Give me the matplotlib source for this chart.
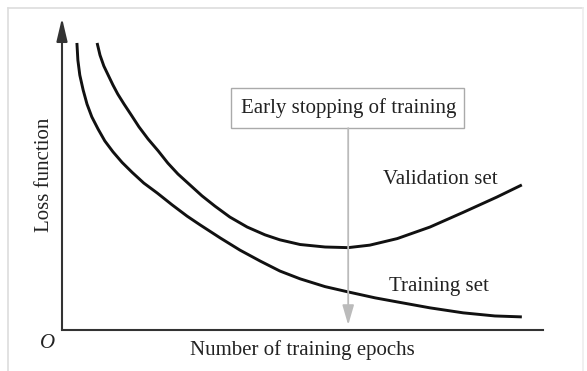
import matplotlib
matplotlib.use('Agg')
import matplotlib.pyplot as plt
from matplotlib.lines import Line2D
from matplotlib.patches import Rectangle

# schematic values (epochs 0-100, loss 0-100)
train_epochs = [3.1, 3.3, 3.7, 4.4, 5.2, 6.2, 7.5, 8.9, 10.6, 12.5, 14.6, 17.0,
                19.8, 22.9, 26.0, 28.7, 32.9, 37.0, 41.2, 45.3, 49.5, 54.7,
                59.5, 65.1, 69.7, 76.5, 83.4, 90.0, 95.6]
train_loss = [92.0, 86.5, 81.7, 76.9, 72.4, 68.3, 64.4, 60.6, 57.1, 53.7, 50.5,
              47.1, 43.9, 40.1, 36.5, 33.7, 29.5, 25.6, 22.1, 18.9, 16.4, 13.9,
              12.2, 10.3, 9.0, 7.1, 5.5, 4.5, 4.2]

val_epochs = [7.3, 7.9, 8.7, 9.6, 10.6, 11.6, 12.9, 14.4, 16.0, 17.9, 20.0,
              22.0, 24.1, 26.6, 29.1, 31.8, 34.9, 38.5, 42.2, 45.3, 49.5, 54.7,
              59.5, 64.0, 69.7, 76.5, 83.4, 90.4, 95.6]
val_loss = [92.0, 88.1, 84.6, 81.7, 78.5, 75.6, 72.4, 68.9, 65.1, 61.2, 57.4,
            53.5, 50.0, 46.5, 43.0, 39.7, 36.2, 33.0, 30.5, 28.9, 27.4, 26.6,
            26.4, 27.2, 29.3, 33.0, 37.7, 42.6, 46.5]

stop_epoch = 59.5

plt.rcParams['font.family'] = ['Liberation Serif', 'DejaVu Serif']
txt = '#222222'
fs = 15

fig = plt.figure(figsize=(5.87, 3.71), dpi=100)

# faint frame round the figure
for xs, ys, c in [([8, 583], [8, 8], '#dddddd'),
                  ([8, 8], [8, 371], '#dddddd'),
                  ([583, 583], [8, 371], '#eeeeee')]:
    fig.add_artist(Line2D([x / 587 for x in xs], [1 - y / 371 for y in ys],
                          color=c, lw=1.2, transform=fig.transFigure))

ax = fig.add_axes([62 / 587, 41 / 371, 481 / 587, 312 / 371])
ax.set_xlim(0, 100)
ax.set_ylim(0, 100)
for s in ['top', 'right', 'left']:
    ax.spines[s].set_visible(False)
ax.spines['bottom'].set_color('#333333')
ax.spines['bottom'].set_linewidth(1.5)
ax.set_xticks([])
ax.set_yticks([])

# y axis with arrow head
ax.annotate('', xy=(0, 1), xytext=(0, 0), xycoords='axes fraction',
            arrowprops=dict(arrowstyle='-|>,head_length=1.4,head_width=0.33',
                            color='#333333', lw=1.5, mutation_scale=10,
                            shrinkA=0, shrinkB=0))

ax.plot(train_epochs, train_loss, color='#111111', lw=2.1,
        solid_capstyle='butt', solid_joinstyle='round', clip_on=False)
ax.plot(val_epochs, val_loss, color='#111111', lw=2.1,
        solid_capstyle='butt', solid_joinstyle='round', clip_on=False)

# early stopping marker
ax.annotate('', xy=(stop_epoch, 1.6), xytext=(stop_epoch, 64.7),
            arrowprops=dict(arrowstyle='-|>,head_length=1.2,head_width=0.35',
                            color='#bbbbbb', lw=1.3, mutation_scale=10,
                            shrinkA=0, shrinkB=0))
ax.add_patch(Rectangle((35.1, 64.7), 48.5, 12.9, fc='white', ec='#aaaaaa',
                       lw=1, clip_on=False))
ax.text(stop_epoch, 71.2, 'Early stopping of training', ha='center',
        va='center', fontsize=fs, color=txt)

ax.text(78.6, 48.1, 'Validation set', ha='center', va='center',
        fontsize=fs, color=txt)
ax.text(78.4, 13.8, 'Training set', ha='center', va='center',
        fontsize=fs, color=txt)

ax.text(-3.1, -4.2, 'O', ha='center', va='center', fontsize=fs,
        style='italic', color=txt, clip_on=False)
ax.text(49.9, -6.4, 'Number of training epochs', ha='center', va='center',
        fontsize=fs, color=txt, clip_on=False)
ax.text(-3.6, 49.7, 'Loss function', ha='center', va='center',
        fontsize=fs, rotation=90, color=txt, clip_on=False)

fig.savefig('out.png', dpi=100)
